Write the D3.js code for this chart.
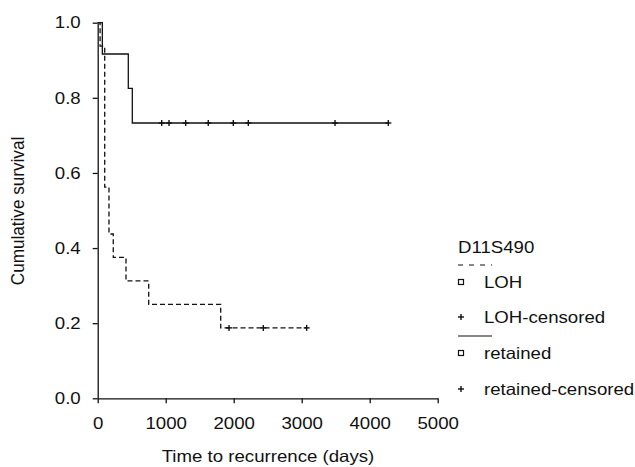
<!DOCTYPE html>
<html>
<head>
<meta charset="utf-8">
<script src="https://cdn.jsdelivr.net/npm/d3@7"></script>
<style>
  body { margin: 0; background: #fff; }
  text { font-family: "Liberation Sans", Arial, sans-serif; fill: #111; }
</style>
</head>
<body>
<div id="chart"></div>
<script>
// LOH group (dashed)
const lohTimes = [0, 35, 103, 166, 229, 416, 750, 1809, 3073];
const lohSurv  = [1.0, 0.9375, 0.5625, 0.4375, 0.375, 0.3125, 0.25, 0.1875, 0.1875];
const lohCensor = [1931, 2435, 3073];

// retained group (solid)
const retTimes = [0, 68, 450, 509, 4274];
const retSurv  = [1.0, 0.9167, 0.825, 0.733, 0.733];
const retCensor = [941, 1049, 1294, 1626, 1994, 2215, 3490, 4274];

const xTicks = [0, 1000, 2000, 3000, 4000, 5000];
const yTicks = [0, 0.2, 0.4, 0.6, 0.8, 1.0];

const legendItems = ["LOH", "LOH-censored", "retained", "retained-censored"];

const W = 635, H = 467;
const FS = 16.5, STRETCH = 1.13;

const svg = d3.select('#chart').append('svg')
	.attr('width', W)
	.attr('height', H);

// the reference text is a bit wider than Arial, stretch it around its anchor x
function widen(sel) {
	sel.each(function() {
		const t = d3.select(this);
		const x = +t.attr('x') || 0;
		t.attr('transform', `translate(${x},0) scale(${STRETCH},1) translate(${-x},0)`);
	});
}

const xScale = d3.scaleLinear().domain([0, 5000]).range([97.7, 437.7]);
const yScale = d3.scaleLinear().domain([0, 1]).range([398.3, 22.7]);

// axes
const xAxis = d3.axisBottom(xScale).tickValues(xTicks).tickSize(5).tickSizeOuter(0).tickPadding(14)
	.tickFormat(d3.format('d'));
const yAxis = d3.axisLeft(yScale).tickValues(yTicks).tickSize(5).tickSizeOuter(0).tickPadding(12)
	.tickFormat(d3.format('.1f'));

const gx = svg.append('g')
	.attr('transform', `translate(0, ${yScale(0)})`)
	.call(xAxis);
const gy = svg.append('g')
	.attr('transform', `translate(${xScale(0)}, 0)`)
	.call(yAxis);

[gx, gy].forEach(g => {
	g.selectAll('path, line').attr('stroke', '#111').attr('stroke-width', 1.3);
	g.selectAll('text').style('font-size', FS + 'px').attr('fill', '#111').call(widen);
});

// axis titles
svg.append('text')
	.attr('x', 268).attr('y', 462)
	.attr('text-anchor', 'middle')
	.style('font-size', FS + 'px')
	.text('Time to recurrence (days)')
	.call(widen);

svg.append('text')
	.attr('transform', `translate(24, 211) rotate(-90) scale(1.07,1.1)`)
	.attr('text-anchor', 'middle')
	.style('font-size', '16px')
	.text('Cumulative survival');

// survival curves
const line = d3.line()
	.x(d => xScale(d[0]))
	.y(d => yScale(d[1]))
	.curve(d3.curveStepAfter);

svg.append('path')
	.datum(retTimes.map((t, i) => [t, retSurv[i]]))
	.attr('d', line)
	.attr('fill', 'none')
	.attr('stroke', '#111')
	.attr('stroke-width', 1.3);

svg.append('path')
	.datum(lohTimes.map((t, i) => [t, lohSurv[i]]))
	.attr('d', line)
	.attr('fill', 'none')
	.attr('stroke', '#111')
	.attr('stroke-width', 1.3)
	.attr('stroke-dasharray', '5,3');

// censor marks
function survAt(times, surv, t) {
	let s = surv[0];
	times.forEach((tt, i) => { if (tt <= t) s = surv[i]; });
	return s;
}

function plus(g, x, y, r) {
	g.append('line').attr('x1', x - r).attr('x2', x + r).attr('y1', y).attr('y2', y)
		.attr('stroke', '#111').attr('stroke-width', 1.4);
	g.append('line').attr('x1', x).attr('x2', x).attr('y1', y - r).attr('y2', y + r)
		.attr('stroke', '#111').attr('stroke-width', 1.4);
}

const marks = svg.append('g');
retCensor.forEach(t => plus(marks, xScale(t), yScale(survAt(retTimes, retSurv, t)), 3));
lohCensor.forEach(t => plus(marks, xScale(t), yScale(survAt(lohTimes, lohSurv, t)), 3));

// legend
const lg = svg.append('g');
lg.append('text').attr('x', 458).attr('y', 253).style('font-size', FS + 'px').text('D11S490').call(widen);

lg.append('line').attr('x1', 458).attr('x2', 492).attr('y1', 265).attr('y2', 265)
	.attr('stroke', '#111').attr('stroke-width', 1.2).attr('stroke-dasharray', '5,6');
lg.append('line').attr('x1', 458).attr('x2', 492).attr('y1', 336).attr('y2', 336)
	.attr('stroke', '#111').attr('stroke-width', 1.2);

const rowY = [282, 317, 353, 389];
legendItems.forEach((name, i) => {
	if (i % 2 === 0) {
		lg.append('rect').attr('x', 458.5).attr('y', rowY[i] - 2.5).attr('width', 5).attr('height', 5)
			.attr('fill', 'none').attr('stroke', '#111').attr('stroke-width', 1.2);
	} else {
		plus(lg, 461, rowY[i], 3);
	}
	lg.append('text').attr('x', 484).attr('y', rowY[i]).attr('dy', '0.36em')
		.style('font-size', FS + 'px').text(name).call(widen);
});
</script>
</body>
</html>
